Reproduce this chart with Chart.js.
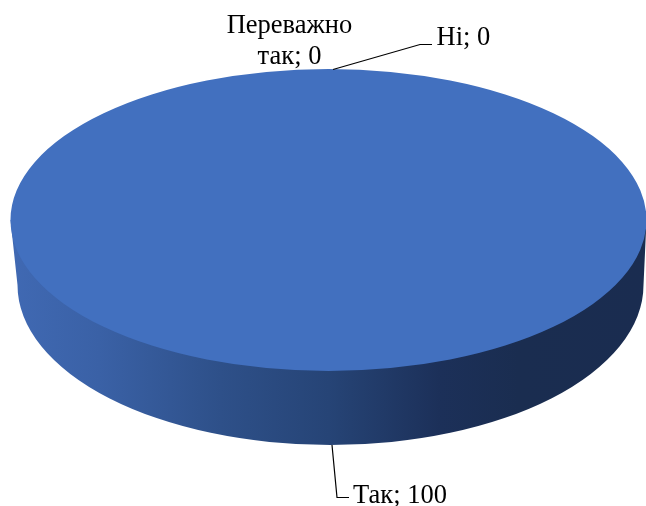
<!DOCTYPE html>
<html>
<head>
<meta charset="utf-8">
<script src="https://cdn.jsdelivr.net/npm/chart.js@4"></script>
<style>
  html, body { margin: 0; padding: 0; background: #fff; overflow: hidden; }
  canvas { display: block; }
</style>
</head>
<body>
<canvas id="pie" width="646" height="506"></canvas>
<script>
// data
const categories = ["Так", "Переважно так", "Ні"];
const values = [100, 0, 0];
const sliceColors = ["#4270bf", "#ed7d31", "#a5a5a5"];

// pie tilt and wall (bottom rim is a bit smaller than the top face, perspective)
const tilt = 151 / 318;
const rim = { dx: 2, dy: 65, rx: 313, ry: 160 };
const wallStops = [[0, "#4069b3"], [0.14, "#3a61a6"], [0.33, "#2e5089"], [0.5, "#264476"], [0.675, "#1c3059"], [0.8, "#1a2d50"], [1, "#1a2c50"]];

// label text spots and leader lines, same order as categories
const labelLines = [
  ["Так; " + values[0]],
  ["Переважно", "так; " + values[1]],
  ["Ні; " + values[2]]
];
const labelSpots = [[353, 503, "left"], [289.5, 33, "center"], [436.5, 45, "left"]];
const leaders = [
  [[332, 445], [337, 497.5], [349, 497.5]],
  [],
  [[333, 69.5], [420, 44.5], [432, 44.5]]
];

const tiltPlugin = {
  id: "tilt",
  beforeDatasetsDraw(chart) {
    const ctx = chart.ctx;
    const arc = chart.getDatasetMeta(0).data[0];
    const rx = arc.outerRadius;
    const rimX = arc.x + rim.dx, rimY = arc.y + rim.dy;
    // side wall under the top face
    const grad = ctx.createLinearGradient(arc.x - rx, 0, arc.x + rx, 0);
    wallStops.forEach(s => grad.addColorStop(s[0], s[1]));
    ctx.save();
    ctx.fillStyle = grad;
    ctx.beginPath();
    ctx.moveTo(arc.x - rx, arc.y);
    ctx.lineTo(rimX - rim.rx, rimY);
    ctx.ellipse(rimX, rimY, rim.rx, rim.ry, 0, Math.PI, 0, true);
    ctx.lineTo(arc.x + rx, arc.y);
    ctx.closePath();
    ctx.fill();
    ctx.restore();
    // squash the pie into an ellipse
    ctx.save();
    ctx.translate(arc.x, arc.y);
    ctx.scale(1, tilt);
    ctx.translate(-arc.x, -arc.y);
  },
  afterDatasetsDraw(chart) {
    const ctx = chart.ctx;
    ctx.restore();
    ctx.save();
    ctx.strokeStyle = "#000";
    ctx.lineWidth = 1.2;
    leaders.forEach(pts => {
      if (!pts.length) return;
      ctx.beginPath();
      pts.forEach((p, i) => i ? ctx.lineTo(p[0], p[1]) : ctx.moveTo(p[0], p[1]));
      ctx.stroke();
    });
    ctx.fillStyle = "#000";
    ctx.font = '26.5px "Liberation Serif"';
    ctx.textBaseline = "alphabetic";
    labelLines.forEach((lines, i) => {
      const spot = labelSpots[i];
      ctx.textAlign = spot[2];
      lines.forEach((line, j) => ctx.fillText(line, spot[0], spot[1] + j * 31));
    });
    ctx.restore();
  }
};

new Chart("pie", {
  type: "pie",
  data: {
    labels: categories,
    datasets: [{ data: values, backgroundColor: sliceColors, borderWidth: 0 }]
  },
  options: {
    responsive: false,
    animation: false,
    radius: 318,
    layout: { padding: { left: 11, bottom: 66 } },
    plugins: { legend: { display: false }, tooltip: { enabled: false } }
  },
  plugins: [tiltPlugin]
});
</script>
</body>
</html>
